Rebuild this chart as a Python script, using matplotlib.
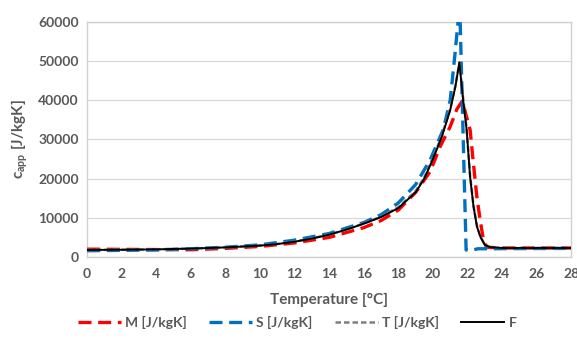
import numpy as np
import matplotlib.pyplot as plt

# Temperature [°C] and apparent heat capacity [J/kgK]
T_M = [0, 2, 4, 6, 8, 10, 12, 14, 16, 17, 18, 19, 19.84, 20.42, 21.0, 21.38, 21.7,
       22.15, 22.34, 22.54, 22.73, 22.92, 23.1, 24, 28]
c_M = [2000, 1950, 1900, 1850, 2200, 2700, 3600, 5000, 7500, 9300, 12000, 16500, 21800,
       28200, 33300, 37700, 39800, 32500, 24000, 15400, 9500, 4400, 2500, 2300, 2300]

T_S = [0, 2, 4, 6, 8, 10, 12, 14, 16, 17, 18, 19, 19.84, 20.6, 21.0, 21.28, 21.55,
       21.92, 22.3, 22.6, 28]
c_S = [1600, 1700, 1800, 2100, 2500, 3100, 4300, 6000, 8800, 10800, 13800, 18500, 24800,
       32500, 40000, 52000, 64500, 1800, 1800, 2100, 2200]

T_T = [0, 2, 4, 6, 8, 10, 11, 12, 13, 14, 15, 16, 17, 18, 19, 19.5, 20, 20.5, 21, 21.3,
       21.53, 21.75, 21.95, 22.15, 22.35, 22.55, 22.75, 23.0, 23.3, 24, 28]
c_T = [1800, 1850, 1950, 2150, 2450, 2950, 3350, 3950, 4750, 5750, 7050, 8550, 10300,
       12700, 16800, 20300, 25300, 30800, 37800, 43800, 49500, 40500, 32800, 20800,
       13000, 7900, 5200, 3200, 2500, 2300, 2300]

T_F = [0, 2, 4, 6, 8, 10, 11, 12, 13, 14, 15, 16, 17, 18, 19, 19.5, 20, 20.5, 21, 21.3,
       21.53, 21.75, 21.95, 22.15, 22.35, 22.55, 22.75, 23.0, 23.3, 24, 28]
c_F = [1800, 1850, 1950, 2150, 2450, 2900, 3300, 3900, 4700, 5700, 7000, 8500, 10200,
       12500, 16500, 20000, 25000, 30500, 37500, 43500, 49700, 40000, 32500, 20500,
       12800, 7700, 5100, 3100, 2500, 2300, 2300]

x_ticks = np.arange(0, 29, 2)
y_ticks = np.arange(0, 60001, 10000)

grey = '#595959'
plt.rcParams['font.family'] = ['Lato', 'DejaVu Sans']
plt.rcParams['font.weight'] = 'bold'

fig = plt.figure(figsize=(5.77, 3.54), dpi=100)
ax = fig.add_axes([0.151, 0.274, 0.839, 0.664])

ax.plot(T_M, c_M, color='#ff0000', lw=2.4, ls=(0, (3.9, 2.0)), label='M [J/kgK]', zorder=3)
ax.plot(T_S, c_S, color='#0070c0', lw=2.4, ls=(0, (3.9, 2.0)), label='S [J/kgK]', zorder=4)
ax.plot(T_T, c_T, color='#7f7f7f', lw=1.8, ls=(0, (2.2, 1.2)), label='T [J/kgK]', zorder=5)
ax.plot(T_F, c_F, color='black', lw=1.4, label='F', zorder=6)

ax.set_xlim(0, 28)
ax.set_ylim(0, 60000)
ax.set_xticks(x_ticks)
ax.set_yticks(y_ticks)
ax.tick_params(length=0, labelsize=10, labelcolor=grey, pad=6)
ax.tick_params(axis='x', pad=8)
ax.grid(axis='y', color='#d9d9d9', lw=0.9)
ax.set_axisbelow(True)
for s in ax.spines.values():
    s.set_color('#d0d0d0')
    s.set_linewidth(1.0)

ax.set_xlabel('Temperature [°C]', fontsize=11, color=grey, fontweight='bold', labelpad=9)
ax.set_ylabel(r'c$_\mathregular{app}$ [J/kgK]', fontsize=11, color=grey,
              fontweight='bold', labelpad=6)

leg = fig.legend(loc='center', bbox_to_anchor=(0.515, 0.09), ncol=4, frameon=False,
                 handlelength=3.1, columnspacing=1.6, handletextpad=0.3, fontsize=10)
for t in leg.get_texts():
    t.set_color(grey)

fig.savefig('out.png', dpi=100)
